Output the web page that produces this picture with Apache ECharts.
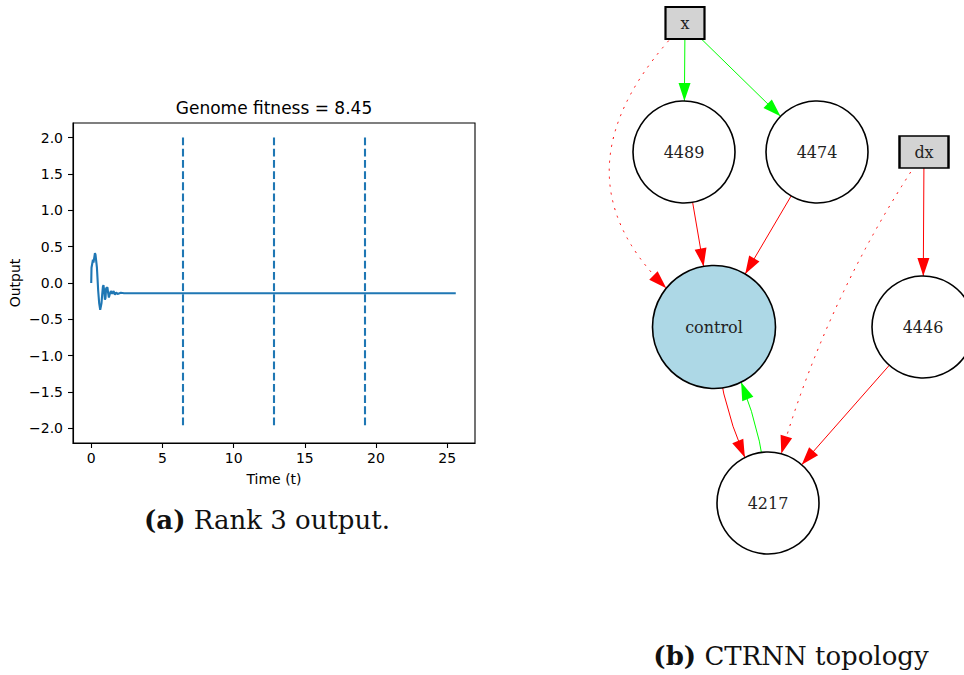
<!DOCTYPE html>
<html>
<head>
<meta charset="utf-8">
<script src="https://cdn.jsdelivr.net/npm/echarts@6/dist/echarts.min.js"></script>
<style>
  html, body { margin: 0; padding: 0; background: #fff; }
  #chart { width: 964px; height: 675px; }
</style>
</head>
<body>
<div id="chart"></div>
<script>
// Simulated controller output of the rank-3 genome
const timeValues = [0, 0.02, 0.12, 0.16, 0.26, 0.30, 0.40, 0.44, 0.49, 0.56, 0.63,
  0.72, 0.77, 0.82, 0.86, 0.91, 0.96, 1.00, 1.05, 1.14, 1.19,
  1.24, 1.29, 1.38, 1.47, 1.57, 1.66, 1.75, 1.85, 2.08, 2.31, 25.6];
const outputValues = [0, 0.21, 0.32, 0.28, 0.41, 0.39, 0.21, 0.07, -0.11, -0.28, -0.37,
  -0.28, -0.16, -0.05, -0.03, -0.11, -0.23, -0.21, -0.07, -0.06, -0.14,
  -0.20, -0.16, -0.11, -0.15, -0.11, -0.16, -0.13, -0.15, -0.135, -0.14, -0.14];

// Episode boundaries (dashed markers) and their vertical extent
const switchTimes = [6.4, 12.8, 19.2];
const switchLow = -2;
const switchHigh = 2;

// Tick labels
const xTicks = [0, 5, 10, 15, 20, 25];
const yTicks = [-2, -1.5, -1, -0.5, 0, 0.5, 1, 1.5, 2];

const fitness = 8.45;

// CTRNN topology: node names, kinds and layout positions (layout units)
const nodeNames = ['x', 'dx', '4489', '4474', 'control', '4446', '4217'];
const nodeKinds = ['input', 'input', 'hidden', 'hidden', 'output', 'hidden', 'hidden'];
const nodeLayoutX = [95, 334, 94, 227, 124, 333, 178];
const nodeLayoutY = [537, 408, 408, 408, 233, 233, 57];

// Connections: source, target, sign of weight, whether the link is disabled (dotted)
const edgeSources = ['x', 'x', 'x', '4489', '4474', 'dx', 'dx', '4446', 'control', '4217'];
const edgeTargets = ['4489', '4474', 'control', 'control', 'control', '4446', '4217', '4217', '4217', 'control'];
const edgeSigns = ['+', '+', '-', '-', '-', '-', '-', '-', '-', '+'];
const edgeDisabled = [false, false, true, false, false, false, true, false, false, false];
const edgeBend = [0, 0, -0.59, 0, 0, 0, -0.09, 0, -0.12, -0.12];

const BLUE = '#1f77b4';
const mpl = { fontFamily: 'DejaVu Sans', color: '#000' };

function fmtTick(v, digits) {
  const s = Math.abs(v).toFixed(digits);
  return v < 0 ? '\u2212' + s : s;
}

const lineData = timeValues.map((t, i) => [t, outputValues[i]]);

const graphNodes = nodeNames.map((name, i) => {
  const kind = nodeKinds[i];
  const node = {
    name: name,
    value: [nodeLayoutX[i], nodeLayoutY[i]],
    symbol: kind === 'input' ? 'rect' : 'circle',
    itemStyle: {
      color: kind === 'input' ? '#d3d3d3' : (kind === 'output' ? '#add8e6' : '#ffffff'),
      borderColor: '#000',
      borderWidth: kind === 'input' ? 2 : 1.6
    }
  };
  if (kind === 'input') node.symbolSize = [name.length > 1 ? 49 : 39, 32];
  else node.symbolSize = kind === 'output' ? 123 : 102;
  return node;
});

const graphEdges = edgeSources.map((s, i) => ({
  source: s,
  target: edgeTargets[i],
  lineStyle: {
    color: edgeSigns[i] === '+' ? '#00ff00' : '#ff0000',
    width: 1,
    type: edgeDisabled[i] ? [2, 6] : 'solid',
    curveness: edgeBend[i]
  }
}));

// Arrow head whose tip sits at the symbol centre (tip lands on the node boundary)
const ARROW = 'path://M6,0 L6,0.1 M6,18 L12,36 L0,36 Z';

const chart = echarts.init(document.getElementById('chart'), null, { renderer: 'svg' });

chart.setOption({
  animation: false,
  backgroundColor: '#fff',
  textStyle: mpl,
  title: [
    {
      text: 'Genome fitness = ' + fitness.toFixed(2),
      left: 274, top: 99, padding: 0, textAlign: 'center',
      textStyle: { fontFamily: 'DejaVu Sans', fontWeight: 'normal', fontSize: 17, color: '#000' }
    },
    {
      text: '{b|(a)} Rank 3 output.',
      left: 267, top: 507, padding: 0, textAlign: 'center',
      textStyle: {
        fontFamily: 'DejaVu Serif', fontWeight: 'normal', fontSize: 26, color: '#111',
        rich: { b: { fontFamily: 'DejaVu Serif', fontWeight: 'bold', fontSize: 26, color: '#111' } }
      }
    },
    {
      text: '{b|(b)} CTRNN topology',
      left: 791, top: 643, padding: 0, textAlign: 'center',
      textStyle: {
        fontFamily: 'DejaVu Serif', fontWeight: 'normal', fontSize: 26, color: '#111',
        rich: { b: { fontFamily: 'DejaVu Serif', fontWeight: 'bold', fontSize: 26, color: '#111' } }
      }
    }
  ],
  grid: [
    { left: 73, top: 123, width: 402, height: 320, show: true, borderColor: '#000', borderWidth: 1.1, backgroundColor: 'transparent' },
    { left: 590, top: 0, width: 374, height: 560, show: false }
  ],
  xAxis: [
    {
      gridIndex: 0, type: 'value', min: -1.28, max: 26.95,
      name: 'Time (t)', nameLocation: 'middle', nameGap: 29,
      nameTextStyle: { fontFamily: 'DejaVu Sans', fontSize: 14, color: '#000' },
      axisLine: { show: true, onZero: false, lineStyle: { color: '#000', width: 1.1 } },
      axisTick: { show: true, inside: false, length: 5, customValues: xTicks, lineStyle: { color: '#000', width: 1.1 } },
      axisLabel: { show: true, margin: 8, fontSize: 14, color: '#000', fontFamily: 'DejaVu Sans', customValues: xTicks, formatter: v => fmtTick(v, 0) },
      splitLine: { show: false }
    },
    { gridIndex: 1, type: 'value', min: 0, max: 374, show: false }
  ],
  yAxis: [
    {
      gridIndex: 0, type: 'value', min: -2.2, max: 2.2,
      name: 'Output', nameLocation: 'middle', nameGap: 51, nameRotate: 90,
      nameTextStyle: { fontFamily: 'DejaVu Sans', fontSize: 14, color: '#000' },
      axisLine: { show: true, onZero: false, lineStyle: { color: '#000', width: 1.1 } },
      axisTick: { show: true, inside: false, length: 5, customValues: yTicks, lineStyle: { color: '#000', width: 1.1 } },
      axisLabel: { show: true, margin: 10, fontSize: 14, color: '#000', fontFamily: 'DejaVu Sans', customValues: yTicks, formatter: v => fmtTick(v, 1) },
      splitLine: { show: false }
    },
    { gridIndex: 1, type: 'value', min: 0, max: 560, show: false }
  ],
  series: [
    {
      type: 'line',
      xAxisIndex: 0, yAxisIndex: 0,
      data: lineData,
      showSymbol: false,
      symbol: 'none',
      lineStyle: { color: BLUE, width: 2.1 },
      z: 3,
      markLine: {
        silent: true,
        symbol: ['none', 'none'],
        label: { show: false },
        lineStyle: { color: BLUE, width: 2.1, type: [7.8, 3.4] },
        emphasis: { disabled: true },
        data: switchTimes.map(t => [{ coord: [t, switchHigh] }, { coord: [t, switchLow] }])
      }
    },
    {
      type: 'graph',
      coordinateSystem: 'cartesian2d',
      xAxisIndex: 1, yAxisIndex: 1,
      layout: 'none',
      roam: false,
      silent: true,
      edgeSymbol: ['none', ARROW],
      edgeSymbolSize: [0, [12, 36]],
      label: { show: true, position: 'inside', fontFamily: 'DejaVu Serif', fontSize: 16, color: '#222' },
      lineStyle: { opacity: 1 },
      emphasis: { disabled: true },
      data: graphNodes,
      links: graphEdges
    }
  ]
});
</script>
</body>
</html>
